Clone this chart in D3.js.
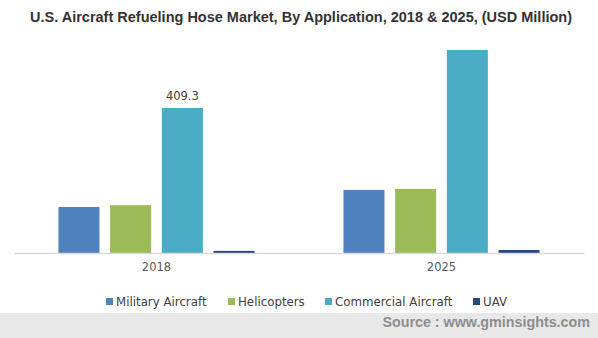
<!DOCTYPE html>
<html>
<head>
<meta charset="utf-8">
<script src="https://cdn.jsdelivr.net/npm/d3@7"></script>
<style>
  body { margin: 0; background: #fff; }
  svg { display: block; }
</style>
</head>
<body>
<svg id="chart"></svg>
<script>
"use strict";

// values
var years = ['2018', '2025'];
var applications = ['Military Aircraft', 'Helicopters', 'Commercial Aircraft', 'UAV'];
var military = [130, 178];
var helicopters = [135, 181];
var commercial = [409.3, 573];
var uav = [6, 8.5];
var labels = [{ year: '2018', app: 'Commercial Aircraft', text: '409.3' }];

var colors = ['#4f81bd', '#9bbb59', '#4bacc6', '#24497a'];

var width = 598, height = 338;
var svg = d3.select('#chart').attr('width', width).attr('height', height);

var rows = years.map((y, i) => ({
    year: y,
    values: [military[i], helicopters[i], commercial[i], uav[i]]
}));

var x0 = d3.scaleBand().domain(years).range([14, 584]).paddingInner(0).paddingOuter(0);
var x1 = d3.scaleBand().domain(applications).range([0, x0.bandwidth()])
    .paddingInner(0.207).paddingOuter(0.86);
var y = d3.scaleLinear().domain([0, 409.3]).range([253, 108]);
var color = d3.scaleOrdinal().domain(applications).range(colors);

var smallFont = 'DejaVu Sans, Verdana, sans-serif';

// title
svg.append('text')
    .attr('x', 301).attr('y', 22)
    .attr('text-anchor', 'middle')
    .style('font-family', 'Liberation Sans, Arial, sans-serif')
    .style('font-weight', 'bold')
    .style('font-size', '14.5px')
    .style('fill', '#333')
    .text('U.S. Aircraft Refueling Hose Market, By Application, 2018 & 2025, (USD Million)');

// bars
var group = svg.selectAll('.group')
    .data(rows)
    .enter().append('g')
    .attr('class', 'group')
    .attr('transform', d => `translate(${x0(d.year)},0)`);

group.selectAll('rect')
    .data(d => d.values.map((v, i) => ({ app: applications[i], value: v })))
    .enter().append('rect')
    .attr('x', d => x1(d.app))
    .attr('width', x1.bandwidth())
    .attr('y', d => y(d.value))
    .attr('height', d => y(0) - y(d.value))
    .attr('fill', d => color(d.app));

// axis
var xAxis = d3.axisBottom(x0).tickSize(0).tickPadding(10);
var gx = svg.append('g')
    .attr('transform', `translate(0,${y(0)})`)
    .call(xAxis);
gx.select('.domain').attr('stroke', '#d9d9d9').attr('stroke-width', 1.5);
gx.selectAll('text')
    .style('font-family', smallFont)
    .style('font-size', '11.5px')
    .style('fill', '#595959');

// value label
svg.selectAll('.vlabel')
    .data(labels)
    .enter().append('text')
    .attr('class', 'vlabel')
    .attr('x', d => x0(d.year) + x1(d.app) + x1.bandwidth() / 2)
    .attr('y', d => {
        var i = years.indexOf(d.year);
        return y(commercial[i]) - 8;
    })
    .attr('text-anchor', 'middle')
    .style('font-family', smallFont)
    .style('font-size', '11.5px')
    .style('fill', '#404040')
    .text(d => d.text);

// legend
var legendX = [106, 228, 325, 473];
var legend = svg.selectAll('.legend')
    .data(applications)
    .enter().append('g')
    .attr('class', 'legend')
    .attr('transform', (d, i) => `translate(${legendX[i]},298)`);

legend.append('rect')
    .attr('width', 7).attr('height', 7)
    .attr('fill', d => color(d));

legend.append('text')
    .attr('x', 10).attr('y', 8)
    .style('font-family', smallFont)
    .style('font-size', '11.8px')
    .style('fill', '#404040')
    .text(d => d);

// footer
svg.append('rect')
    .attr('x', 0).attr('y', 313)
    .attr('width', width).attr('height', height - 313)
    .attr('fill', '#e8e8e8');

svg.append('text')
    .attr('x', 590).attr('y', 327)
    .attr('text-anchor', 'end')
    .style('font-family', 'Liberation Sans, Arial, sans-serif')
    .style('font-weight', 'bold')
    .style('font-size', '14.3px')
    .style('fill', '#8c8c8c')
    .text('Source : www.gminsights.com');
</script>
</body>
</html>
